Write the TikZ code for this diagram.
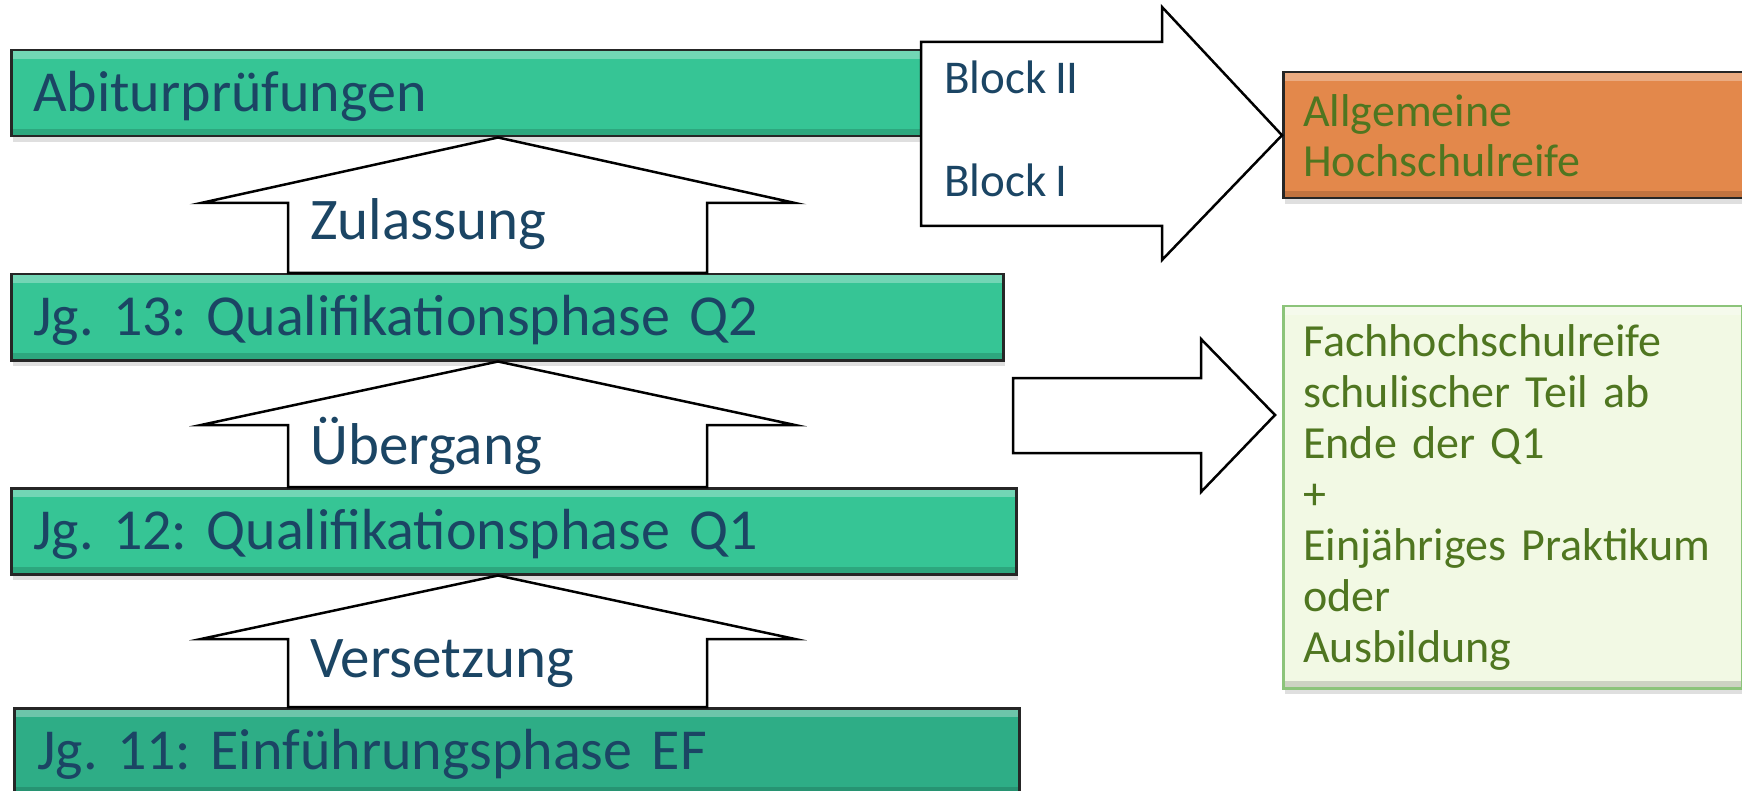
\documentclass[tikz,border=0pt]{standalone}
\usepackage{fontspec}
\setmainfont{Carlito}[WordSpace=0.8]
\frenchspacing
\usetikzlibrary{shadows}

\definecolor{phasegreen}{HTML}{36C595}
\definecolor{efgreen}{HTML}{2EAD86}
\definecolor{textblue}{HTML}{1B4564}
\definecolor{ahrorange}{HTML}{E3884B}
\definecolor{fhrfill}{HTML}{F2F9E4}
\definecolor{fhrline}{HTML}{8CC47A}
\definecolor{fhrtext}{HTML}{4F7620}

\tikzset{
  bevel/.style={path picture={
      \fill[white, opacity=.3] (path picture bounding box.north west) rectangle ([yshift=-9pt]path picture bounding box.north east);
      \fill[black, opacity=.15] (path picture bounding box.south west) rectangle ([yshift=7pt]path picture bounding box.south east);}},
  phase/.style={draw=black!85, line width=2.5pt, fill=phasegreen, text=textblue, bevel,
      drop shadow={shadow xshift=2pt, shadow yshift=-6pt, opacity=.25},
      anchor=north west, inner xsep=22pt, inner ysep=0pt, align=left,
      minimum height=86pt, text height=37pt, text depth=0pt,
      font=\fontsize{58}{66}\selectfont},
  result/.style={line width=2.5pt, text=fhrtext, bevel, anchor=north west,
      drop shadow={shadow xshift=2pt, shadow yshift=-6pt, opacity=.25},
      inner xsep=20pt, inner ysep=0pt, align=left},
  stepshape/.style={draw=black, line width=2.5pt, fill=white, line join=miter},
  steplabel/.style={anchor=base west, text=textblue, inner sep=0pt,
      font=\fontsize{59}{66}\selectfont},
  blocklabel/.style={anchor=base west, text=textblue, inner sep=0pt,
      font=\fontsize{47}{50}\selectfont},
}

\begin{document}
\begin{tikzpicture}[x=1pt, y=-1pt]
  \useasboundingbox (0,0) rectangle (1742,791);

  % phases
  \node[phase, text width=867pt] (abi) at (10,49) {Abiturprüfungen};
  \node[phase, text width=948pt] (q2) at (10,273) {Jg. 13: Qualifikationsphase Q2};
  \node[phase, text width=961pt] (q1) at (10,487) {Jg. 12: Qualifikationsphase Q1};
  \node[phase, fill=efgreen, inner xsep=23pt, text width=959pt] (ef) at (13,707) {Jg. 11: Einführungsphase EF};

  % arrows between phases
  \filldraw[stepshape] (288,0 |- q2.north) -- (288,203) -- (201,203) -- (498,0 |- abi.south)
      -- (795,203) -- (707,203) -- (707,0 |- q2.north) -- cycle;
  \filldraw[stepshape] (288,0 |- q1.north) -- (288,425) -- (201,425) -- (498,0 |- q2.south)
      -- (795,425) -- (707,425) -- (707,0 |- q1.north) -- cycle;
  \filldraw[stepshape] (288,0 |- ef.north) -- (288,639) -- (201,639) -- (498,0 |- q1.south)
      -- (795,639) -- (707,639) -- (707,0 |- ef.north) -- cycle;
  \node[steplabel] (zul) at (310,240) {Zulassung};
  \node[steplabel] (ueb) at (310,464) {Übergang};
  \node[steplabel] (vers) at (310,677) {Versetzung};

  % results
  \node[result, draw=black!85, fill=ahrorange, text width=423pt, minimum height=126pt,
      font=\fontsize{46}{50}\selectfont] (ahr) at (1282,71) {Allgemeine\\Hochschulreife};
  \node[result, draw=fhrline, fill=fhrfill, text width=419pt, minimum height=382pt,
      font=\fontsize{46}{51}\selectfont] (fhr) at (1282,305)
      {Fachhochschulreife\\schulischer Teil ab\\Ende der Q1\\+\\Einjähriges Praktikum\\oder\\Ausbildung};

  % arrows to the results
  \filldraw[stepshape] (921,42) -- (1162,42) -- (1162,7) -- (ahr.west) -- (1162,260)
      -- (1162,226) -- (921,226) -- cycle;
  \node[blocklabel] (blockii) at (944,94) {Block II};
  \node[blocklabel] (blocki) at (944,197) {Block I};
  \filldraw[stepshape] (1013,378) -- (1201,378) -- (1201,339) -- (1275,415)
      -- (1201,492) -- (1201,453) -- (1013,453) -- cycle;
\end{tikzpicture}
\end{document}
